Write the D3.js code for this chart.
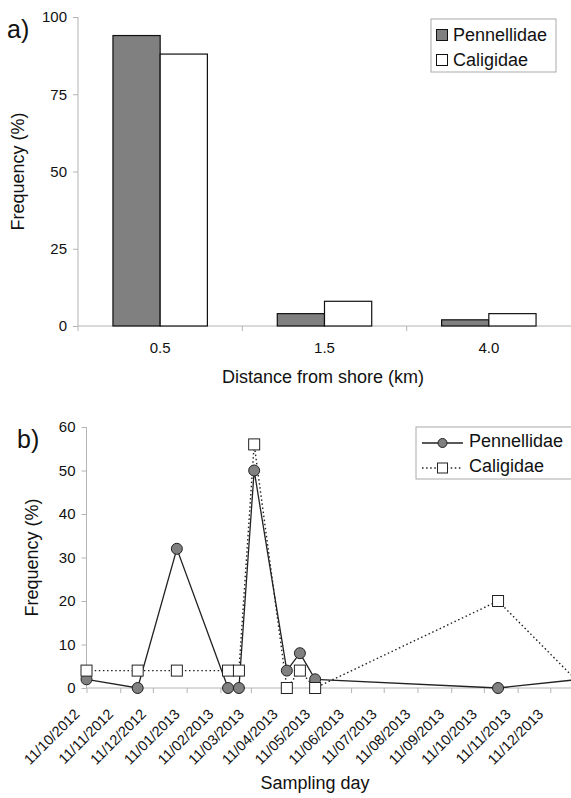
<!DOCTYPE html>
<html lang="en">
<head>
<meta charset="UTF-8">
<title>Frequency</title>
<script src="https://d3js.org/d3.v7.min.js"></script>
<style>
  body { margin: 0; background: #fff; }
  svg { display: block; }
</style>
</head>
<body>
<svg id="chart" width="571" height="798" font-family="Liberation Sans, Arial, sans-serif"></svg>
<script>
// panel a data
var distances = ["0.5", "1.5", "4.0"];
var pennBars = [94, 4, 2];
var caligBars = [88, 8, 4];
var barTicks = [0, 25, 50, 75, 100];

// panel b data (dd/mm/yyyy sampling days)
var sampleDays = ["11/10/2012", "27/11/2012", "02/01/2013", "18/02/2013", "28/02/2013", "14/03/2013",
                  "13/04/2013", "25/04/2013", "09/05/2013", "24/10/2013", "07/01/2014"];
var pennLine = [2, 0, 32, 0, 0, 50, 4, 8, 2, 0, 2];
var caligLine = [4, 4, 4, 4, 4, 56, 0, 4, 0, 20, 1];
var lineTicks = [0, 10, 20, 30, 40, 50, 60];
var monthTicks = ["11/10/2012", "11/11/2012", "11/12/2012", "11/01/2013", "11/02/2013", "11/03/2013",
                  "11/04/2013", "11/05/2013", "11/06/2013", "11/07/2013", "11/08/2013", "11/09/2013",
                  "11/10/2013", "11/11/2013", "11/12/2013"];

var series = ["Pennellidae", "Caligidae"];

var FONT = "Liberation Sans, Arial, sans-serif";
var AXIS_GREY = "#b4b4b4";
var INK = "#111";

var svg = d3.select("#chart");
var parseDay = d3.timeParse("%d/%m/%Y");

function styleAxis(g) {
    g.attr("font-size", 15).attr("font-family", FONT);
    g.selectAll("path, line").attr("stroke", AXIS_GREY);
    g.selectAll("text").attr("fill", INK);
}

// ---------- a) bar chart ----------
var a = { left: 78, right: 571, top: 17, bottom: 326 };

var x0 = d3.scaleBand().domain(distances).range([a.left, a.right]);
var x1 = d3.scaleBand().domain(series).range([0, x0.bandwidth()]).paddingOuter(0.74);
var ya = d3.scaleLinear().domain([0, 100]).range([a.bottom, a.top]);

var gA = svg.append("g");

gA.append("g")
    .attr("transform", "translate(" + a.left + ",0)")
    .call(d3.axisLeft(ya).tickValues(barTicks).tickSize(5).tickPadding(6))
    .call(function (g) { g.select(".domain").attr("d", "M0," + a.top + "V" + a.bottom); })
    .call(styleAxis);

// category axis, ticks between categories
var xa = gA.append("g")
    .attr("transform", "translate(0," + a.bottom + ")");
xa.append("line").attr("x1", a.left).attr("x2", a.right);
xa.selectAll(".sep")
    .data(distances)
    .enter().append("line")
    .attr("x1", function (d) { return x0(d); })
    .attr("x2", function (d) { return x0(d); })
    .attr("y1", 0).attr("y2", 5);
xa.selectAll(".lbl")
    .data(distances)
    .enter().append("text")
    .attr("x", function (d) { return x0(d) + x0.bandwidth() / 2; })
    .attr("y", 27)
    .attr("text-anchor", "middle")
    .text(function (d) { return d; });
xa.call(styleAxis);

var groups = gA.selectAll(".grp")
    .data(distances)
    .enter().append("g")
    .attr("transform", function (d) { return "translate(" + x0(d) + ",0)"; });

groups.selectAll("rect")
    .data(function (d, i) { return [{ s: "Pennellidae", v: pennBars[i] }, { s: "Caligidae", v: caligBars[i] }]; })
    .enter().append("rect")
    .attr("x", function (d) { return x1(d.s); })
    .attr("y", function (d) { return ya(d.v); })
    .attr("width", x1.bandwidth())
    .attr("height", function (d) { return ya(0) - ya(d.v); })
    .attr("fill", function (d) { return d.s === "Pennellidae" ? "#808080" : "#ffffff"; })
    .attr("stroke", INK)
    .attr("stroke-width", 1.2);

gA.append("text")
    .attr("x", 7).attr("y", 38)
    .attr("font-size", 25)
    .attr("fill", INK)
    .text("a)");

gA.append("text")
    .attr("transform", "translate(24," + ((a.top + a.bottom) / 2) + ") rotate(-90)")
    .attr("text-anchor", "middle")
    .attr("font-size", 18)
    .attr("fill", INK)
    .text("Frequency (%)");

gA.append("text")
    .attr("x", 323).attr("y", 383)
    .attr("text-anchor", "middle")
    .attr("font-size", 18)
    .attr("fill", INK)
    .text("Distance from shore (km)");

// legend a
var legA = gA.append("g").attr("transform", "translate(431,19)");
legA.append("rect").attr("width", 125).attr("height", 53).attr("fill", "#fff").attr("stroke", "#aaa");
series.forEach(function (s, i) {
    legA.append("rect")
        .attr("x", 5.5).attr("y", 10.5 + i * 25).attr("width", 11).attr("height", 11)
        .attr("fill", i === 0 ? "#808080" : "#fff").attr("stroke", INK);
    legA.append("text")
        .attr("x", 22).attr("y", 21.5 + i * 25)
        .attr("font-size", 18).attr("fill", INK)
        .text(s);
});

// ---------- b) line chart ----------
var b = { left: 86.5, right: 571, top: 427, bottom: 688 };

var days = sampleDays.map(parseDay);
var xb = d3.scaleTime()
    .domain([parseDay("11/10/2012"), parseDay("30/12/2013")])
    .range([b.left, b.right]);
var yb = d3.scaleLinear().domain([0, 60]).range([b.bottom, b.top]);

var gB = svg.append("g");

gB.append("g")
    .attr("transform", "translate(" + b.left + ",0)")
    .call(d3.axisLeft(yb).tickValues(lineTicks).tickSize(5).tickPadding(6))
    .call(function (g) { g.select(".domain").attr("d", "M0," + b.top + "V" + b.bottom); })
    .call(styleAxis);

var fmt = d3.timeFormat("%d/%m/%Y");
gB.append("g")
    .attr("transform", "translate(0," + b.bottom + ")")
    .call(d3.axisBottom(xb).tickValues(monthTicks.map(parseDay)).tickFormat(fmt).tickSize(5))
    .call(function (g) { g.select(".domain").attr("d", "M" + b.left + ",0H" + b.right); })
    .call(styleAxis)
    .attr("font-size", 14.5)
    .selectAll("text")
    .attr("text-anchor", "end")
    .attr("dy", null)
    .attr("y", 0)
    .attr("transform", "translate(-6.5,27) rotate(-45)");

svg.append("defs").append("clipPath").attr("id", "clipb")
    .append("rect").attr("x", 0).attr("y", b.top - 20).attr("width", 571).attr("height", b.bottom - b.top + 40);

var plot = gB.append("g").attr("clip-path", "url(#clipb)");

var line = d3.line()
    .x(function (d) { return xb(d.t); })
    .y(function (d) { return yb(d.v); });

var pennData = days.map(function (t, i) { return { t: t, v: pennLine[i] }; });
var caligData = days.map(function (t, i) { return { t: t, v: caligLine[i] }; });

plot.append("path")
    .datum(caligData)
    .attr("d", line)
    .attr("fill", "none")
    .attr("stroke", "#222")
    .attr("stroke-width", 1.4)
    .attr("stroke-dasharray", "1.5,2.6");

plot.append("path")
    .datum(pennData)
    .attr("d", line)
    .attr("fill", "none")
    .attr("stroke", "#222")
    .attr("stroke-width", 1.3);

plot.selectAll(".pt")
    .data(pennData)
    .enter().append("circle")
    .attr("cx", function (d) { return xb(d.t); })
    .attr("cy", function (d) { return yb(d.v); })
    .attr("r", 5.5)
    .attr("fill", "#808080")
    .attr("stroke", "#222")
    .attr("stroke-width", 1);

plot.selectAll(".sq")
    .data(caligData)
    .enter().append("rect")
    .attr("x", function (d) { return xb(d.t) - 5.5; })
    .attr("y", function (d) { return yb(d.v) - 5.5; })
    .attr("width", 11)
    .attr("height", 11)
    .attr("fill", "#fff")
    .attr("stroke", "#222")
    .attr("stroke-width", 1);

gB.append("text")
    .attr("x", 17).attr("y", 448)
    .attr("font-size", 25)
    .attr("fill", INK)
    .text("b)");

gB.append("text")
    .attr("transform", "translate(38," + ((b.top + b.bottom) / 2) + ") rotate(-90)")
    .attr("text-anchor", "middle")
    .attr("font-size", 18)
    .attr("fill", INK)
    .text("Frequency (%)");

gB.append("text")
    .attr("x", 315).attr("y", 789)
    .attr("text-anchor", "middle")
    .attr("font-size", 18)
    .attr("fill", INK)
    .text("Sampling day");

// legend b
var legB = gB.append("g").attr("transform", "translate(416,427)");
legB.append("rect").attr("width", 160).attr("height", 52).attr("fill", "#fff").attr("stroke", "#aaa");
series.forEach(function (s, i) {
    var yy = 16 + i * 25;
    legB.append("line")
        .attr("x1", 6).attr("x2", 47).attr("y1", yy).attr("y2", yy)
        .attr("stroke", "#222").attr("stroke-width", 1.3)
        .attr("stroke-dasharray", i === 0 ? null : "1.5,2.6");
    if (i === 0) {
        legB.append("circle").attr("cx", 26.5).attr("cy", yy).attr("r", 4.5)
            .attr("fill", "#808080").attr("stroke", "#222");
    } else {
        legB.append("rect").attr("x", 21.5).attr("y", yy - 5).attr("width", 10).attr("height", 10)
            .attr("fill", "#fff").attr("stroke", "#222");
    }
    legB.append("text")
        .attr("x", 53).attr("y", yy + 4)
        .attr("font-size", 18).attr("fill", INK)
        .text(s);
});
</script>
</body>
</html>
